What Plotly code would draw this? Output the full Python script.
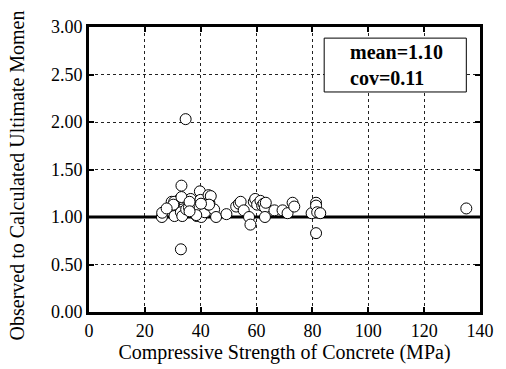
import plotly.graph_objects as go

# Data
strength = [34.6, 32.9, 33.1, 26.1, 26.2, 29.6, 30.4, 30.6, 32.6, 32.9, 33.4, 34.8, 35.8, 36.4,
            38.6, 39.7, 39.9, 40.2, 41.5, 42.8, 42.8, 43.1, 44.8, 45.5, 49.2, 52.7, 53.7, 54.3,
            55.4, 57.3, 57.8, 59.0, 59.5, 60.2, 61.4, 62.0, 62.5, 63.0, 63.3, 63.0, 66.4, 69.3,
            71.1, 72.9, 73.5, 79.7, 81.3, 81.3, 81.7, 82.8, 81.3, 135.1,
            30.5, 30.2, 33.1, 36.0, 43.6, 43.0, 38.4, 36.0, 40.1, 27.8]
ratio = [2.03, 0.66, 1.33, 1.00, 1.045, 1.16, 1.13, 1.01, 1.19, 1.05, 1.01, 1.08, 1.10, 1.19,
         1.01, 1.27, 1.18, 1.00, 1.05, 1.23, 1.13, 1.15, 1.08, 1.00, 1.03, 1.11, 1.14, 1.16,
         1.07, 1.00, 0.92, 1.16, 1.19, 1.13, 1.17, 1.12, 1.14, 1.10, 1.15, 1.00, 1.07, 1.07,
         1.04, 1.15, 1.11, 1.04, 1.15, 1.12, 1.05, 1.04, 0.83, 1.09,
         1.16, 1.13, 1.21, 1.16, 1.22, 1.13, 1.02, 1.06, 1.14, 1.09]
x_ticks = [0, 20, 40, 60, 80, 100, 120, 140]
y_ticks = [0.0, 0.5, 1.0, 1.5, 2.0, 2.5, 3.0]
ref_line_x = [0, 140]
ref_line_y = [1.0, 1.0]
stats_text = "<b>mean=1.10</b><br><b>cov=0.11</b>"

font = "Liberation Serif"

fig = go.Figure()
fig.add_trace(go.Scatter(x=ref_line_x, y=ref_line_y, mode="lines",
                         line=dict(color="black", width=3), showlegend=False, hoverinfo="skip"))
fig.add_trace(go.Scatter(x=strength, y=ratio, mode="markers",
                         marker=dict(size=11, color="white", line=dict(color="black", width=1)),
                         showlegend=False))

axis_common = dict(showgrid=True, gridcolor="#222222", griddash="3px,3px", gridwidth=1,
                   showline=True, linecolor="black", linewidth=3, mirror="allticks",
                   ticks="inside", ticklen=5, tickwidth=2, tickcolor="black",
                   zeroline=False, tickfont=dict(family=font, size=18, color="black"))

fig.update_xaxes(range=[0, 140], tickvals=x_ticks, ticktext=[str(v) for v in x_ticks],
                 title=dict(text="Compressive Strength of Concrete (MPa)",
                            font=dict(family=font, size=20, color="black"), standoff=0),
                 **axis_common)
fig.update_yaxes(range=[0, 3], tickvals=y_ticks, ticktext=[f"{v:.2f}" for v in y_ticks],
                 **axis_common)

fig.add_annotation(text="Observed to Calculated Ultimate Momen", xref="paper", yref="paper",
                   x=-0.185, y=0.478, textangle=-90, showarrow=False, xanchor="center",
                   yanchor="middle", font=dict(family=font, size=20, color="black"))

fig.add_shape(type="rect", xref="paper", yref="paper", x0=0.6015, x1=0.965, y0=0.772, y1=0.961,
              line=dict(color="black", width=1), fillcolor="white", layer="above")
fig.add_annotation(text=stats_text, xref="paper", yref="paper", x=0.663, y=0.867,
                   showarrow=False, align="left", xanchor="left", yanchor="middle",
                   font=dict(family=font, size=20, color="black"))

fig.update_layout(width=506, height=369, margin=dict(l=89, r=18, t=27, b=57),
                  plot_bgcolor="white", paper_bgcolor="white")
fig.write_html("out.html")
